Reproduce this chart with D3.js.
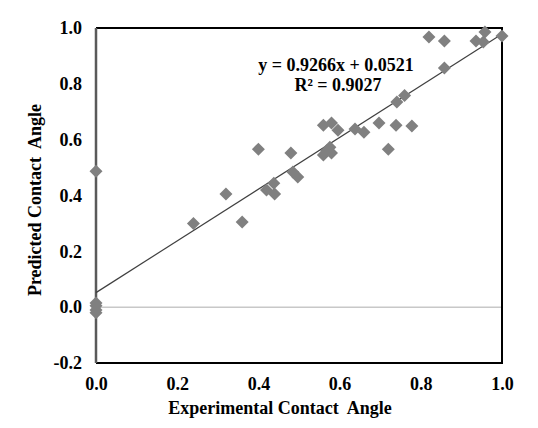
<!DOCTYPE html>
<html>
<head>
<meta charset="utf-8">
<script src="https://cdn.jsdelivr.net/npm/d3@7"></script>
<style>
  body { margin: 0; background: #fff; }
  text { font-family: "Liberation Serif", "Times New Roman", serif; font-weight: bold; fill: #000; }
</style>
</head>
<body>
<div id="chart"></div>
<script>
// experimental vs predicted contact angle
const expX = [0, 0, 0, 0, 0, 0.24, 0.32, 0.36, 0.40, 0.42, 0.438, 0.44, 0.48, 0.485, 0.497,
  0.56, 0.58, 0.596, 0.638, 0.66, 0.697, 0.739, 0.778, 0.72, 0.56, 0.576, 0.58, 0.568,
  0.741, 0.76, 0.82, 0.858, 0.936, 0.958, 0.954, 1.0, 0.858];
const predY = [0.487, 0.015, 0.005, -0.01, -0.02, 0.30, 0.405, 0.305, 0.566, 0.42, 0.444, 0.405, 0.552, 0.484, 0.466,
  0.652, 0.66, 0.634, 0.638, 0.627, 0.66, 0.652, 0.649, 0.566, 0.545, 0.573, 0.552, 0.56,
  0.735, 0.758, 0.968, 0.953, 0.953, 0.986, 0.95, 0.971, 0.857];
const xTicks = [0, 0.2, 0.4, 0.6, 0.8, 1.0];
const yTicks = [-0.2, 0, 0.2, 0.4, 0.6, 0.8, 1.0];
const slope = 0.9266, intercept = 0.0521;
const eqLabel = "y = 0.9266x + 0.0521";
const r2Label = "R² = 0.9027";

const width = 538, height = 428;
const margin = {top: 28, right: 36, bottom: 65, left: 96};
const fs = "18px";

const svg = d3.select("#chart").append("svg")
  .attr("width", width)
  .attr("height", height);

const x = d3.scaleLinear().domain([0, 1]).range([margin.left, width - margin.right]);
const y = d3.scaleLinear().domain([-0.2, 1]).range([height - margin.bottom, margin.top]);

const fmt = d => d3.format(".1f")(d).replace("−", "-");

// zero line
svg.append("line")
  .attr("x1", x(0)).attr("x2", x(1))
  .attr("y1", y(0)).attr("y2", y(0))
  .attr("stroke", "#c8c8c8").attr("stroke-width", 1.5);

// frame: black top/right/bottom, gray left spine
svg.append("path")
  .attr("d", `M${x(0)},${y(1)}H${x(1)}V${y(-0.2)}H${x(0)}`)
  .attr("fill", "none").attr("stroke", "#000").attr("stroke-width", 2);
svg.append("line")
  .attr("x1", x(0)).attr("x2", x(0))
  .attr("y1", y(1)).attr("y2", y(-0.2))
  .attr("stroke", "#5a5a5a").attr("stroke-width", 2.5);

// axes (labels only)
const xAxis = svg.append("g")
  .attr("transform", `translate(0,${y(-0.2)})`)
  .call(d3.axisBottom(x).tickValues(xTicks).tickSize(0).tickPadding(14).tickFormat(fmt));
xAxis.select(".domain").remove();
xAxis.selectAll("text").attr("font-size", fs).attr("font-family", null);

const yAxis = svg.append("g")
  .attr("transform", `translate(${x(0)},0)`)
  .call(d3.axisLeft(y).tickValues(yTicks).tickSize(0).tickPadding(14).tickFormat(fmt));
yAxis.select(".domain").remove();
yAxis.selectAll("text").attr("font-size", fs).attr("font-family", null);

// trendline
svg.append("line")
  .attr("x1", x(0)).attr("y1", y(intercept))
  .attr("x2", x(1)).attr("y2", y(slope + intercept))
  .attr("stroke", "#404040").attr("stroke-width", 1.2);

// diamond markers
const s = 6.5;
const data = expX.map((v, i) => ({x: v, y: predY[i]}));
svg.append("g").selectAll("path")
  .data(data)
  .enter()
  .append("path")
  .attr("d", d => {
    const cx = x(d.x), cy = y(d.y);
    return `M${cx},${cy - s}L${cx + s},${cy}L${cx},${cy + s}L${cx - s},${cy}Z`;
  })
  .attr("fill", "#808080");

// equation
svg.append("text")
  .attr("x", 336).attr("y", 71)
  .attr("text-anchor", "middle")
  .attr("font-size", fs)
  .text(eqLabel);
svg.append("text")
  .attr("x", 338).attr("y", 91)
  .attr("text-anchor", "middle")
  .attr("font-size", fs)
  .text(r2Label);

// axis titles
svg.append("text")
  .attr("x", 280).attr("y", 414)
  .attr("text-anchor", "middle")
  .attr("font-size", fs)
  .text("Experimental Contact  Angle")
  .style("white-space", "pre");

svg.append("text")
  .attr("transform", "rotate(-90)")
  .attr("x", -200).attr("y", 41)
  .attr("text-anchor", "middle")
  .attr("font-size", fs)
  .text("Predicted Contact  Angle")
  .style("white-space", "pre");
</script>
</body>
</html>
